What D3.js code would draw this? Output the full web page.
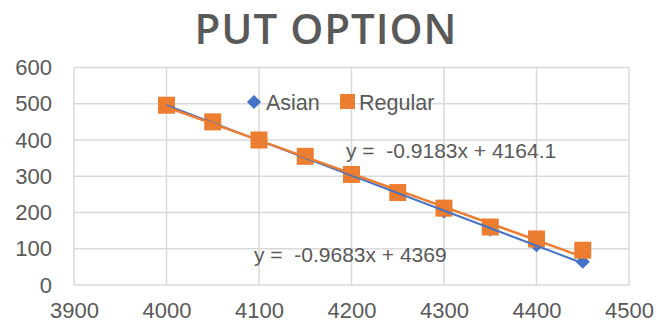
<!DOCTYPE html>
<html>
<head>
<meta charset="utf-8">
<script src="https://cdn.jsdelivr.net/npm/d3@7"></script>
<style>
  html, body { margin: 0; padding: 0; background: #fff; }
  svg { display: block; font-family: "Liberation Sans", Arial, sans-serif; }
</style>
</head>
<body>
<svg id="chart" width="656" height="326"></svg>
<script>
// Strike prices and option values
const strikes = [4000, 4050, 4100, 4150, 4200, 4250, 4300, 4350, 4400, 4450];
const asianValues = [497, 450, 400, 352, 301, 251, 202, 153, 110, 64];
const regularValues = [496, 450, 400, 355, 305, 255, 212, 160, 127, 96];

// Linear trendlines (slope, intercept) and their labels
const asianFit = [-0.9683, 4369];
const regularFit = [-0.9183, 4164.1];
const asianFitLabel = "y =  -0.9683x + 4369";
const regularFitLabel = "y =  -0.9183x + 4164.1";

const xTicks = [3900, 4000, 4100, 4200, 4300, 4400, 4500];
const yTicks = [0, 100, 200, 300, 400, 500, 600];
const titleText = "PUT OPTION";
const seriesNames = ["Asian", "Regular"];

const blue = "#4472C4", orange = "#ED7D31", grid = "#d9d9d9", textCol = "#595959";

const svg = d3.select("#chart");
const x = d3.scaleLinear().domain([3900, 4500]).range([74, 629]);
const y = d3.scaleLinear().domain([0, 600]).range([285, 67.5]);

// Title
svg.append("text")
  .attr("x", 326).attr("y", 43.5)
  .attr("text-anchor", "middle")
  .attr("font-family", "'Open Sans', sans-serif")
  .attr("font-size", 42).attr("font-weight", 600)
  .attr("letter-spacing", 1)
  .attr("fill", textCol)
  .text(titleText);

// Gridlines
const g = svg.append("g");
g.selectAll(".hg").data(yTicks).join("line")
  .attr("x1", x(3900)).attr("x2", x(4500))
  .attr("y1", d => y(d)).attr("y2", d => y(d))
  .attr("stroke", grid).attr("stroke-width", 1.5);
g.selectAll(".vg").data(xTicks).join("line")
  .attr("y1", y(0)).attr("y2", y(600))
  .attr("x1", d => x(d)).attr("x2", d => x(d))
  .attr("stroke", grid).attr("stroke-width", 1.5);

// Axes (labels only)
const yAxis = svg.append("g").attr("transform", `translate(${x(3900)},0)`)
  .call(d3.axisLeft(y).tickValues(yTicks).tickSize(0).tickPadding(22));
const xAxis = svg.append("g").attr("transform", `translate(0,${y(0)})`)
  .call(d3.axisBottom(x).tickValues(xTicks).tickSize(0).tickPadding(17).tickFormat(d3.format("d")));
[yAxis, xAxis].forEach(a => {
  a.select(".domain").remove();
  a.selectAll("text").attr("font-size", 22).attr("fill", textCol)
    .attr("font-family", "'Liberation Sans', Arial, sans-serif");
});

// Markers: Asian diamonds, Regular squares
const diamond = d3.symbol().type(d3.symbolSquare).size(100);
svg.append("g").selectAll("path").data(strikes).join("path")
  .attr("d", diamond)
  .attr("transform", (d, i) => `translate(${x(d)},${y(asianValues[i])}) rotate(45)`)
  .attr("fill", blue);
svg.append("g").selectAll("rect").data(strikes).join("rect")
  .attr("x", d => x(d) - 8.5).attr("width", 17)
  .attr("y", (d, i) => y(regularValues[i]) - 8.5).attr("height", 17)
  .attr("fill", orange);

// Trendlines across the data range
function fitLine(fit, color, w) {
  const x0 = d3.min(strikes), x1 = d3.max(strikes);
  svg.append("line")
    .attr("x1", x(x0)).attr("y1", y(fit[0] * x0 + fit[1]))
    .attr("x2", x(x1)).attr("y2", y(fit[0] * x1 + fit[1]))
    .attr("stroke", color).attr("stroke-width", w);
}
fitLine(asianFit, blue, 2);
fitLine(regularFit, orange, 2.5);

// Trendline equations
svg.append("text").attr("x", 346).attr("y", 158)
  .attr("xml:space", "preserve").style("white-space", "pre")
  .attr("font-size", 21).attr("fill", textCol).text(regularFitLabel);
svg.append("text").attr("x", 254).attr("y", 262)
  .attr("xml:space", "preserve").style("white-space", "pre")
  .attr("font-size", 21).attr("fill", textCol).text(asianFitLabel);

// Legend
const leg = svg.append("g");
leg.append("path").attr("d", diamond)
  .attr("transform", "translate(254,102) rotate(45)").attr("fill", blue);
leg.append("text").attr("x", 266).attr("y", 110)
  .attr("font-size", 21.5).attr("fill", textCol).text(seriesNames[0]);
leg.append("rect").attr("x", 340).attr("y", 94).attr("width", 15).attr("height", 15)
  .attr("fill", orange);
leg.append("text").attr("x", 359).attr("y", 110)
  .attr("font-size", 21.5).attr("fill", textCol).text(seriesNames[1]);
</script>
</body>
</html>
